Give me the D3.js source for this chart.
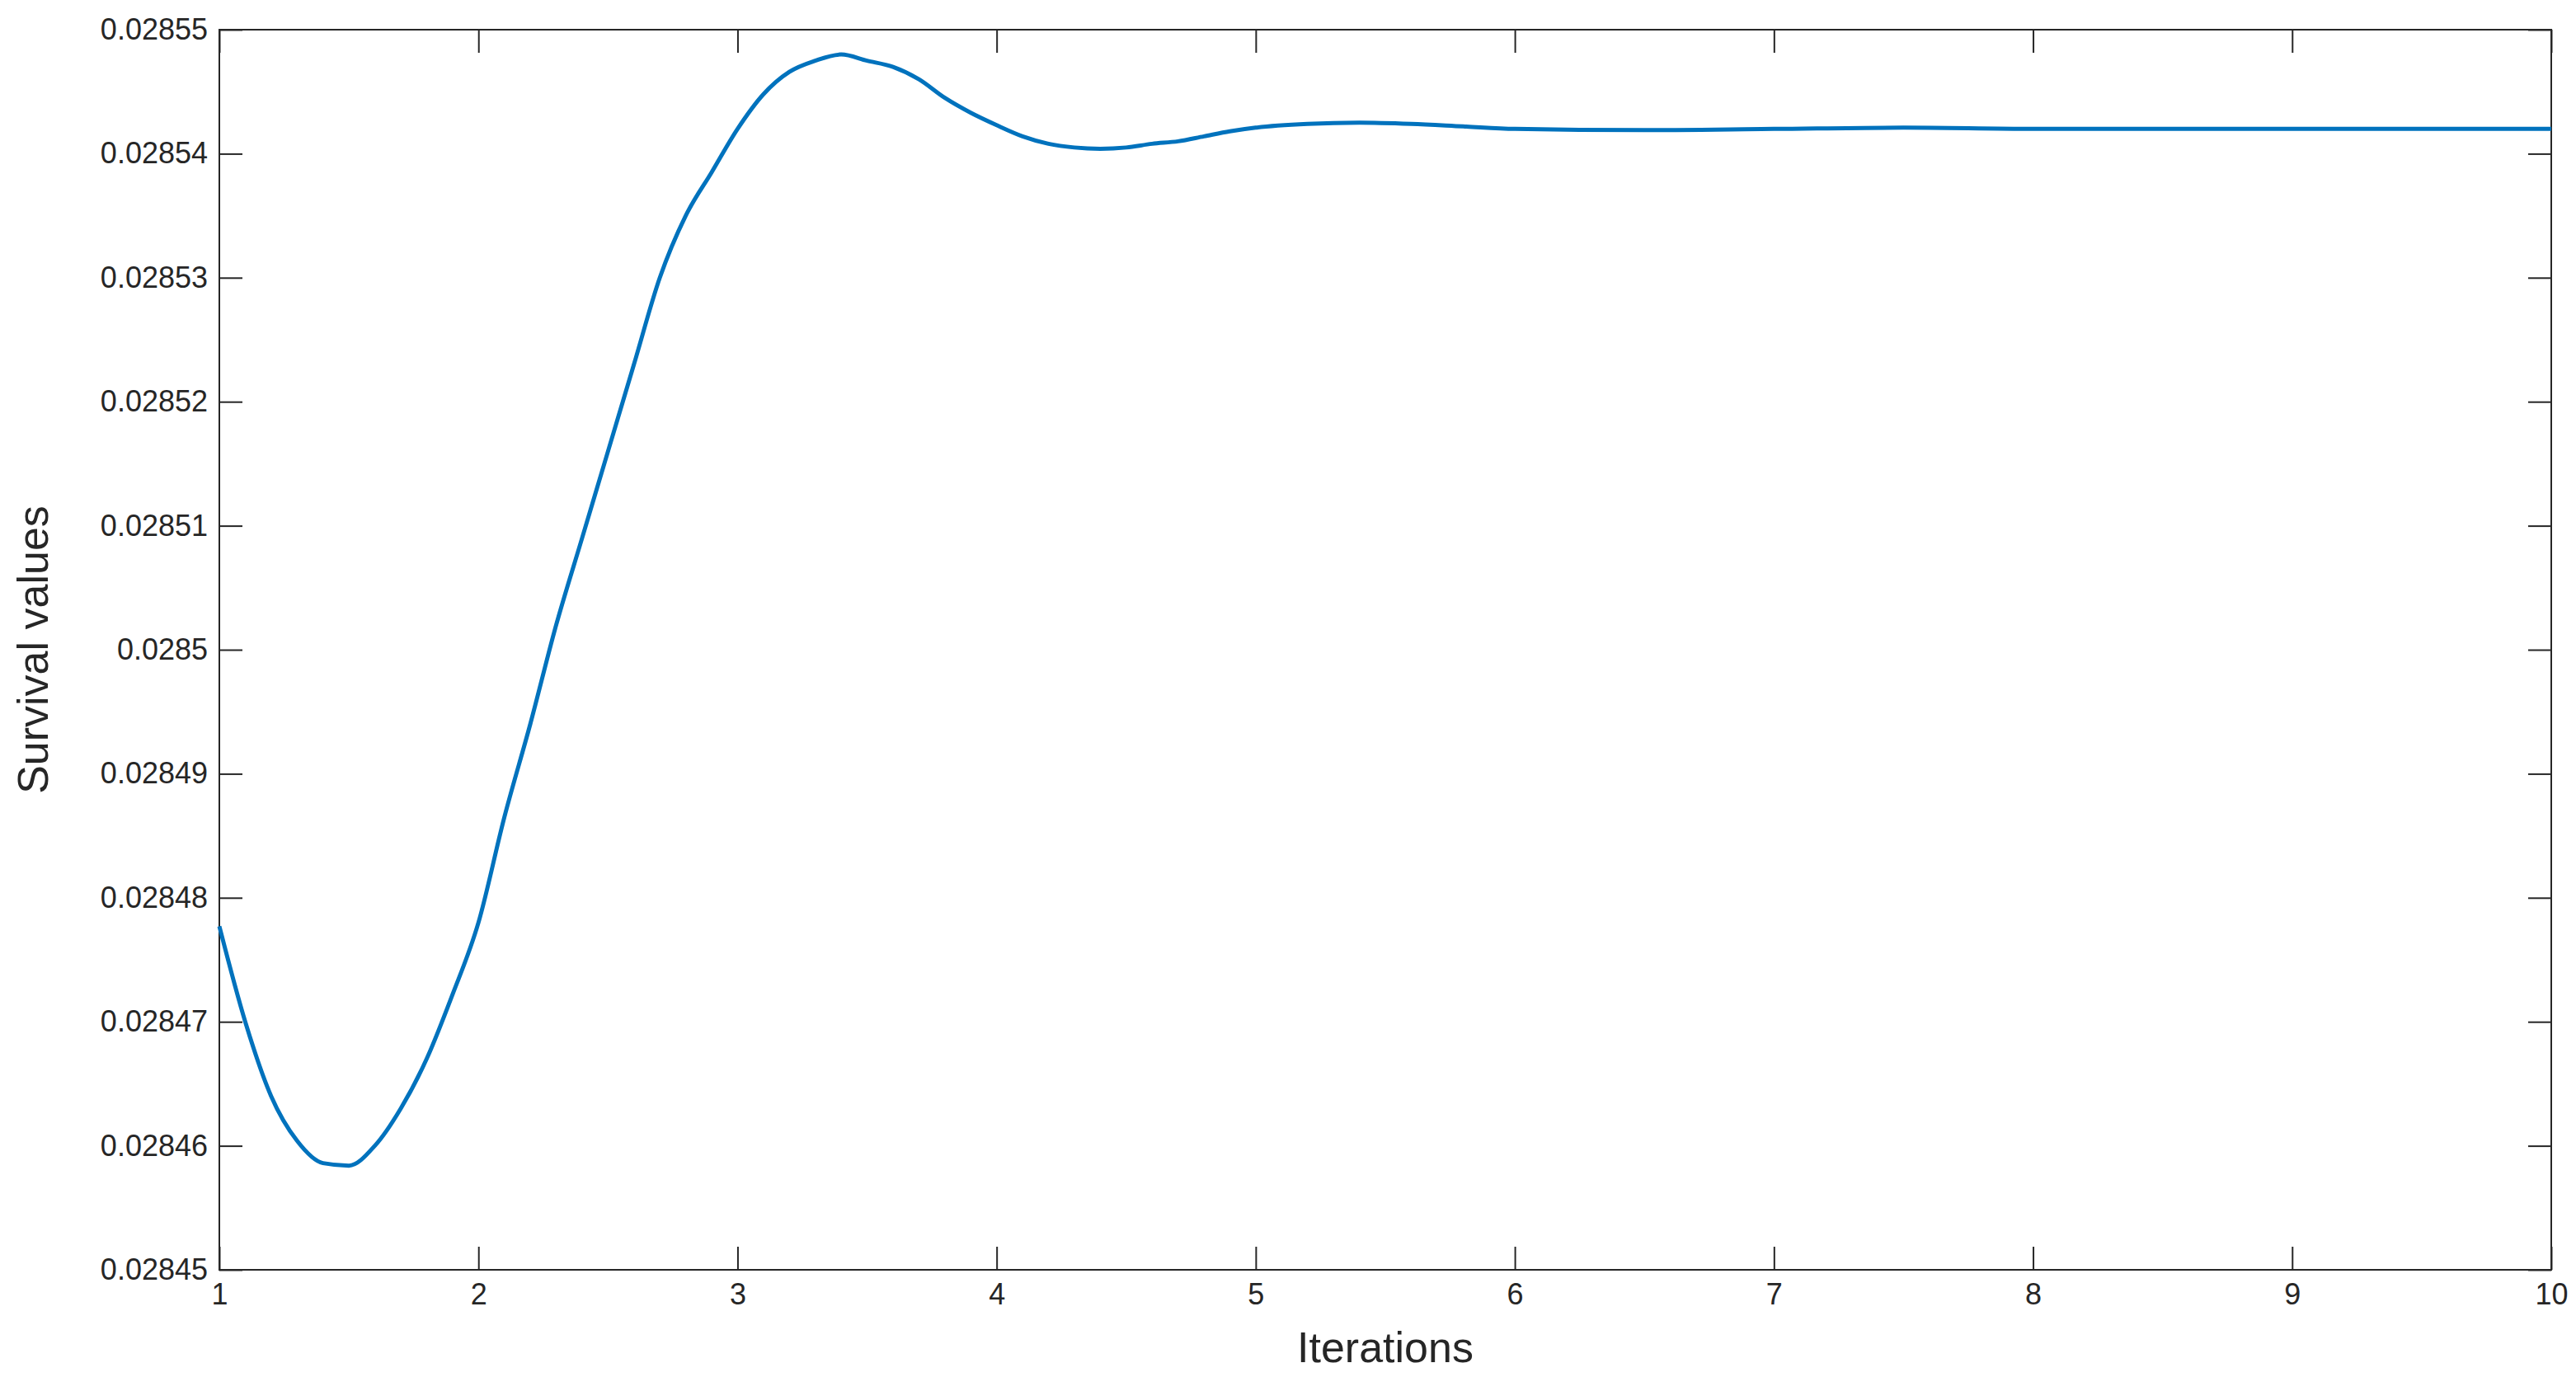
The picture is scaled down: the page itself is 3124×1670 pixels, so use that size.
<!DOCTYPE html>
<html>
<head>
<meta charset="utf-8">
<script src="https://cdn.jsdelivr.net/npm/d3@7"></script>
<style>
  body { margin: 0; background: #fff; }
  text { font-family: "Liberation Sans", Arial, sans-serif; }
</style>
</head>
<body>
<svg id="chart" width="3124" height="1670"></svg>
<script>
const iterations = [1, 1.1, 1.2, 1.3, 1.4, 1.5, 1.6, 1.7, 1.8, 1.9, 2, 2.1, 2.2, 2.3, 2.4, 2.5, 2.6, 2.7, 2.8, 2.9,
  3, 3.1, 3.2, 3.3, 3.4, 3.5, 3.6, 3.7, 3.8, 3.9, 4, 4.1, 4.2, 4.3, 4.4, 4.5, 4.6, 4.7, 4.8, 4.9,
  5, 5.2, 5.4, 5.6, 5.8, 6, 6.5, 7, 7.5, 8, 8.5, 9, 9.5, 10];
const survival = [0.0284777, 0.028470, 0.028464, 0.0284604, 0.0284586, 0.0284584, 0.028460, 0.028463, 0.028467, 0.0284722,
  0.028478, 0.0284865, 0.028494, 0.028502, 0.028509, 0.028516, 0.028523, 0.028530, 0.028535, 0.0285385,
  0.028542, 0.0285448, 0.0285466, 0.0285475, 0.028548, 0.0285475, 0.028547, 0.028546, 0.0285445, 0.0285433,
  0.0285423, 0.0285414, 0.0285408, 0.0285405, 0.0285404, 0.0285405, 0.0285408, 0.028541, 0.0285414, 0.0285418,
  0.0285421, 0.0285424, 0.0285425, 0.0285424, 0.0285422, 0.028542, 0.0285419, 0.028542, 0.0285421, 0.028542,
  0.028542, 0.028542, 0.028542, 0.028542];
const xTicks = [1, 2, 3, 4, 5, 6, 7, 8, 9, 10];
const yTicks = [0.02845, 0.02846, 0.02847, 0.02848, 0.02849, 0.0285, 0.02851, 0.02852, 0.02853, 0.02854, 0.02855];

const mLeft = 266, mRight = 3094, mTop = 36, mBottom = 1540;
const svg = d3.select("#chart");

const x = d3.scaleLinear().domain([1, 10]).range([mLeft, mRight]);
const y = d3.scaleLinear().domain([0.02845, 0.02855]).range([mBottom, mTop]);
const fmt = v => String(+v.toFixed(5));

const tickLen = 28;

const gx = svg.append("g").attr("transform", `translate(0,${mBottom})`)
  .call(d3.axisBottom(x).tickValues(xTicks).tickSizeInner(-tickLen).tickSizeOuter(0).tickPadding(16));
const gy = svg.append("g").attr("transform", `translate(${mLeft},0)`)
  .call(d3.axisLeft(y).tickValues(yTicks).tickFormat(fmt).tickSizeInner(-tickLen).tickSizeOuter(0).tickPadding(14));
const gxt = svg.append("g").attr("transform", `translate(0,${mTop})`)
  .call(d3.axisTop(x).tickValues(xTicks).tickFormat("").tickSizeInner(-tickLen).tickSizeOuter(0));
const gyr = svg.append("g").attr("transform", `translate(${mRight},0)`)
  .call(d3.axisRight(y).tickValues(yTicks).tickFormat("").tickSizeInner(-tickLen).tickSizeOuter(0));

[gx, gy, gxt, gyr].forEach(g => {
  g.select(".domain").remove();
  g.selectAll("line").attr("stroke", "#262626").attr("stroke-width", 2);
  g.selectAll("text").attr("font-size", 36).attr("fill", "#262626");
});

svg.append("rect").attr("x", mLeft).attr("y", mTop)
  .attr("width", mRight - mLeft).attr("height", mBottom - mTop)
  .attr("fill", "none").attr("stroke", "#262626").attr("stroke-width", 2);

const line = d3.line().x((d, i) => x(iterations[i])).y(d => y(d)).curve(d3.curveMonotoneX);
svg.append("path").datum(survival).attr("d", line)
  .attr("fill", "none").attr("stroke", "#0072BD").attr("stroke-width", 5);

svg.append("text").attr("x", (mLeft + mRight) / 2).attr("y", 1652)
  .attr("text-anchor", "middle").attr("font-size", 52).attr("fill", "#262626").text("Iterations");
svg.append("text").attr("transform", `translate(58,${(mTop + mBottom) / 2}) rotate(-90)`)
  .attr("text-anchor", "middle").attr("font-size", 52).attr("fill", "#262626").text("Survival values");
</script>
</body>
</html>
